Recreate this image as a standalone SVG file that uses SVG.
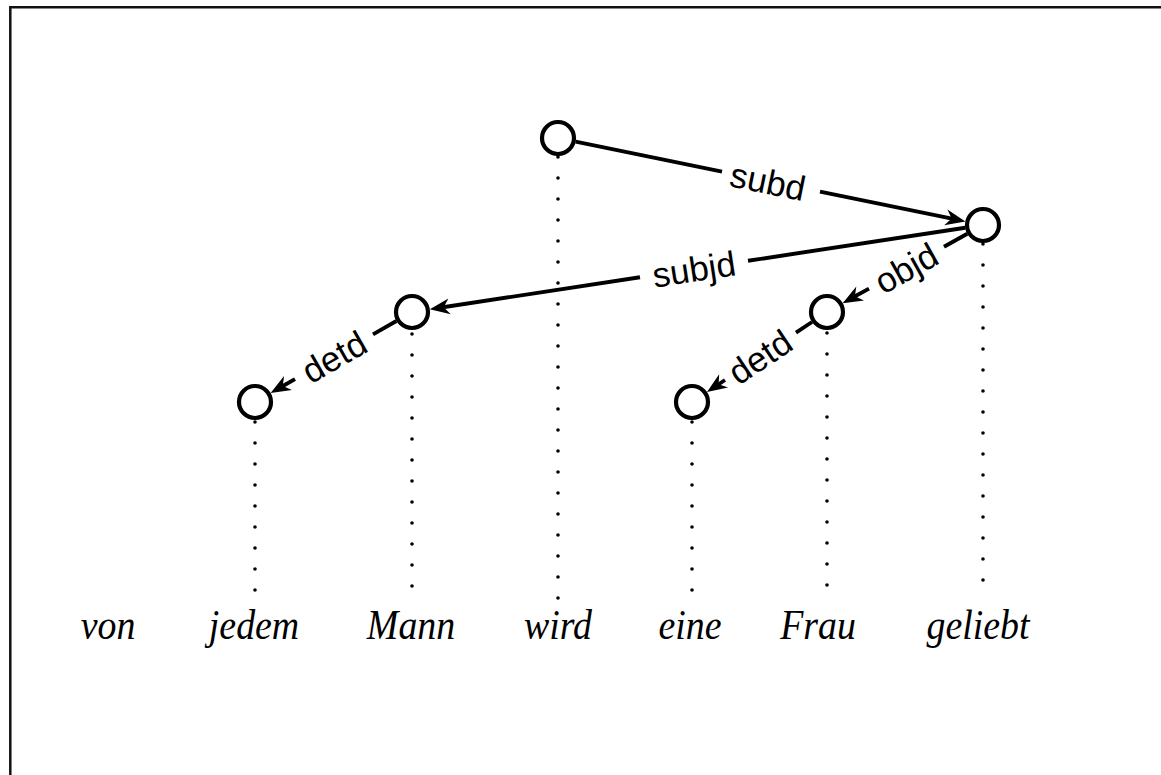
<svg xmlns="http://www.w3.org/2000/svg" width="1161" height="775" viewBox="0 0 1161 775">
<style>
.frame{fill:none;stroke:#111;stroke-width:2.5}
.node{fill:#fff;stroke:#000;stroke-width:4.2}
.edge{fill:none;stroke:#000;stroke-width:3.9}
.proj{fill:none;stroke:#000;stroke-width:3.6;stroke-linecap:round;stroke-dasharray:0 21}
.lbl{font-family:"Liberation Sans",Arial,sans-serif;font-size:35px;fill:#000;text-anchor:middle}
.word{font-family:"Liberation Serif","Times New Roman",serif;font-style:italic;font-size:43px;fill:#000;text-anchor:middle}
</style>
<defs>
<marker id="arr" markerUnits="userSpaceOnUse" viewBox="-24 -11 26 22" markerWidth="26" markerHeight="22" refX="-10" refY="0" orient="auto" overflow="visible">
<path d="M0,0 L-20,-8 L-14,0 L-20,8 Z" fill="#000"/>
</marker>
</defs>
<rect width="1161" height="775" fill="#fff"/>
<path class="frame" d="M10.3,775 V7.3 H1161"/>
<g id="projections">
<line class="proj" x1="558" y1="157" x2="558" y2="600"/>
<line class="proj" x1="983" y1="244" x2="983" y2="600"/>
<line class="proj" x1="412" y1="334" x2="412" y2="600"/>
<line class="proj" x1="827" y1="333" x2="827" y2="600"/>
<line class="proj" x1="255" y1="422" x2="255" y2="600"/>
<line class="proj" x1="692" y1="422" x2="692" y2="600"/>
</g>
<g id="connectors">
<g id="e-subd">
<line class="edge" x1="575.6" y1="141.6" x2="722" y2="171.6"/>
<line class="edge" x1="820" y1="191.6" x2="955.6" y2="219.4" marker-end="url(#arr)"/>
<text class="lbl" transform="translate(768,181.4) rotate(11.58)" dy="12.5">subd</text>
</g>
<g id="e-subjd">
<line class="edge" x1="965.2" y1="227.7" x2="748" y2="260.8"/>
<line class="edge" x1="640" y1="277.2" x2="439.7" y2="307.8" marker-end="url(#arr)"/>
<text class="lbl" transform="translate(694,269) rotate(-8.66)" dy="12.5">subjd</text>
</g>
<g id="e-objd">
<line class="edge" x1="967.3" y1="233.8" x2="944" y2="246.8"/>
<line class="edge" x1="869" y1="288.6" x2="851.4" y2="298.3" marker-end="url(#arr)"/>
<text class="lbl" transform="translate(906,267.9) rotate(-29.15)" dy="12.5">objd</text>
</g>
<g id="e-detd-2">
<line class="edge" x1="812" y1="322" x2="796" y2="332.7"/>
<line class="edge" x1="725" y1="380" x2="715.3" y2="386.5" marker-end="url(#arr)"/>
<text class="lbl" transform="translate(760,356.7) rotate(-33.69)" dy="12.5">detd</text>
</g>
<g id="e-detd-1">
<line class="edge" x1="396.4" y1="321" x2="373" y2="334.4"/>
<line class="edge" x1="295" y1="379.1" x2="279.3" y2="388" marker-end="url(#arr)"/>
<text class="lbl" transform="translate(334,356.7) rotate(-29.83)" dy="12.5">detd</text>
</g>
</g>
<g id="n-wird"><circle class="node" cx="558" cy="138" r="16"/></g>
<g id="n-geliebt"><circle class="node" cx="983" cy="225" r="16"/></g>
<g id="n-Mann"><circle class="node" cx="412" cy="312" r="16"/></g>
<g id="n-Frau"><circle class="node" cx="827" cy="312" r="16"/></g>
<g id="n-jedem"><circle class="node" cx="255" cy="402" r="16"/></g>
<g id="n-eine"><circle class="node" cx="692" cy="402" r="16"/></g>
<g id="words">
<text class="word" transform="translate(108,639) scale(0.88,1)">von</text>
<text class="word" transform="translate(254,639) scale(0.88,1)">jedem</text>
<text class="word" transform="translate(411,639) scale(0.88,1)">Mann</text>
<text class="word" transform="translate(558,639) scale(0.88,1)">wird</text>
<text class="word" transform="translate(690,639) scale(0.88,1)">eine</text>
<text class="word" transform="translate(818,639) scale(0.88,1)">Frau</text>
<text class="word" transform="translate(978,639) scale(0.88,1)">geliebt</text>
</g>
</svg>
